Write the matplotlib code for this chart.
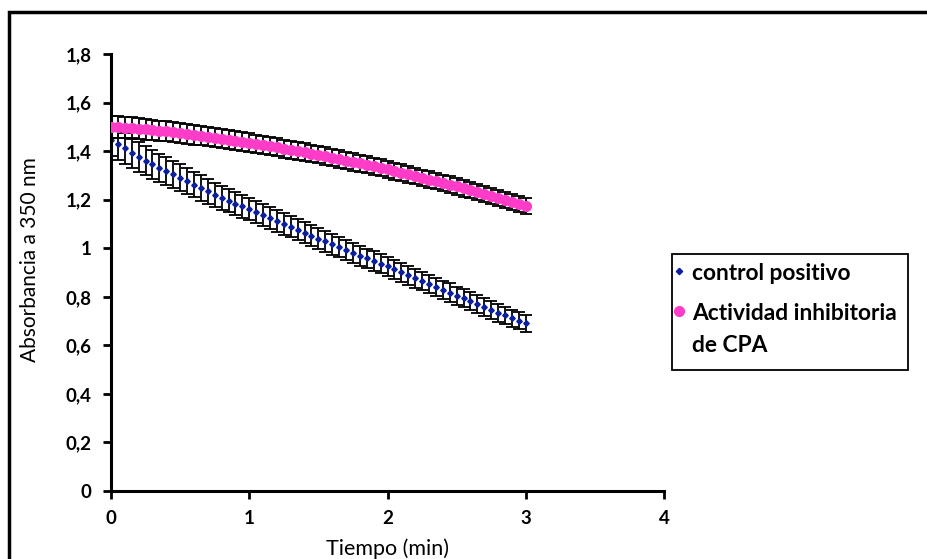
import matplotlib
matplotlib.use("Agg")
import matplotlib.pyplot as plt
from matplotlib.lines import Line2D
from matplotlib.patches import Rectangle

plt.rcParams['font.family'] = ['Lato', 'DejaVu Sans']

# sampling every 3 s, in seconds
tiempo_s = [0, 3, 6, 9, 12, 15, 18, 21, 24, 27, 30, 33, 36, 39, 42, 45, 48, 51, 54, 57,
            60, 63, 66, 69, 72, 75, 78, 81, 84, 87, 90, 93, 96, 99, 102, 105, 108, 111, 114, 117,
            120, 123, 126, 129, 132, 135, 138, 141, 144, 147, 150, 153, 156, 159, 162, 165, 168, 171, 174, 177,
            180]
tiempo_min = [t / 60 for t in tiempo_s]

control_positivo = [1.445, 1.428, 1.411, 1.394, 1.377, 1.360, 1.346, 1.332, 1.318, 1.304,
                    1.290, 1.276, 1.262, 1.248, 1.234, 1.220, 1.208, 1.196, 1.184, 1.172,
                    1.160, 1.148, 1.136, 1.124, 1.112, 1.100, 1.088, 1.076, 1.064, 1.052,
                    1.040, 1.028, 1.016, 1.004, 0.992, 0.980, 0.969, 0.958, 0.947, 0.936,
                    0.925, 0.913, 0.901, 0.889, 0.877, 0.865, 0.853, 0.841, 0.829, 0.817,
                    0.805, 0.793, 0.781, 0.769, 0.757, 0.745, 0.734, 0.723, 0.712, 0.701,
                    0.690]
control_err = [0.065, 0.064, 0.063, 0.062, 0.061, 0.060, 0.059, 0.058, 0.057, 0.056,
               0.055, 0.054, 0.053, 0.052, 0.051, 0.050, 0.049, 0.048, 0.047, 0.046,
               0.045, 0.045, 0.045, 0.044, 0.044, 0.044, 0.043, 0.043, 0.043, 0.042,
               0.042, 0.042, 0.042, 0.041, 0.041, 0.041, 0.041, 0.040, 0.040, 0.040,
               0.040, 0.040, 0.039, 0.039, 0.039, 0.039, 0.038, 0.038, 0.038, 0.038,
               0.037, 0.037, 0.037, 0.037, 0.036, 0.036, 0.036, 0.036, 0.035, 0.035,
               0.035]

inhibicion_cpa = [1.500, 1.499, 1.497, 1.495, 1.492, 1.490, 1.487, 1.484, 1.481, 1.478,
                  1.475, 1.471, 1.467, 1.463, 1.459, 1.455, 1.451, 1.447, 1.443, 1.439,
                  1.435, 1.430, 1.425, 1.420, 1.415, 1.410, 1.405, 1.400, 1.395, 1.390,
                  1.385, 1.379, 1.373, 1.367, 1.361, 1.355, 1.349, 1.343, 1.337, 1.331,
                  1.325, 1.318, 1.311, 1.304, 1.297, 1.290, 1.283, 1.276, 1.269, 1.262,
                  1.255, 1.247, 1.239, 1.231, 1.223, 1.215, 1.207, 1.199, 1.191, 1.183,
                  1.175]
inhibicion_err = [0.045, 0.045, 0.044, 0.044, 0.043, 0.043, 0.042, 0.042, 0.041, 0.041,
                  0.040, 0.040, 0.040, 0.039, 0.039, 0.039, 0.039, 0.038, 0.038, 0.038,
                  0.038, 0.038, 0.037, 0.037, 0.037, 0.037, 0.037, 0.037, 0.037, 0.036,
                  0.036, 0.036, 0.036, 0.036, 0.036, 0.036, 0.035, 0.035, 0.035, 0.035,
                  0.035, 0.035, 0.035, 0.035, 0.034, 0.034, 0.034, 0.034, 0.034, 0.034,
                  0.034, 0.034, 0.034, 0.033, 0.033, 0.033, 0.033, 0.033, 0.033, 0.033,
                  0.033]

y_ticks = [0, 0.2, 0.4, 0.6, 0.8, 1.0, 1.2, 1.4, 1.6, 1.8]
y_labels = ['0', '0,2', '0,4', '0,6', '0,8', '1', '1,2', '1,4', '1,6', '1,8']
x_ticks = [0, 1, 2, 3, 4]
leyenda = ['control positivo', 'Actividad inhibitoria', 'de CPA']

azul = '#0b1f9e'
rosa = '#ff3cc8'

fig = plt.figure(figsize=(9.27, 5.59), dpi=100)
W, H = 927, 559


def fx(px):
    return px / W


def fy(py):
    return 1 - py / H


# outer chart frame (only top and left edges visible)
fig.patches.append(Rectangle((fx(9), -0.2), 1.2, fy(12) + 0.2, transform=fig.transFigure,
                             fill=False, edgecolor='black', linewidth=2.5))

ax = fig.add_axes([fx(111), fy(491), 553 / W, 437 / H])

ax.errorbar(tiempo_min, control_positivo, yerr=control_err, fmt='D', color=azul,
            markersize=2.8, ecolor='black', elinewidth=1.3, capsize=4, capthick=1.3, zorder=2)
ax.errorbar(tiempo_min, inhibicion_cpa, yerr=inhibicion_err, fmt='o', color=rosa,
            markersize=7, ecolor='black', elinewidth=1.3, capsize=4, capthick=1.3, zorder=3)

ax.set_xlim(0, 4)
ax.set_ylim(0, 1.8)
ax.set_xticks(x_ticks)
ax.set_xticklabels([str(x) for x in x_ticks])
ax.set_yticks(y_ticks)
ax.set_yticklabels(y_labels)
for s in ['top', 'right']:
    ax.spines[s].set_visible(False)
for s in ['left', 'bottom']:
    ax.spines[s].set_linewidth(2.2)
ax.tick_params(axis='both', direction='out', length=6, width=2, labelsize=13.5, pad=8)
for lab in ax.get_xticklabels() + ax.get_yticklabels():
    lab.set_fontweight('bold')

fig.text(fx(30), fy(260), 'Absorbancia a 350 nm', rotation=90, ha='center', va='center',
         fontsize=15)
fig.text(fx(388), fy(549), 'Tiempo (min)', ha='center', va='center', fontsize=15.5)

# legend box drawn by hand so the pink marker sits on the first text line
fig.patches.append(Rectangle((fx(672), fy(370)), 236 / W, 116 / H, transform=fig.transFigure,
                             facecolor='white', edgecolor='black', linewidth=1.3, zorder=5))
fig.add_artist(Line2D([fx(679)], [fy(271)], marker='D', color=azul, markersize=3.2,
                      linestyle='none', transform=fig.transFigure, zorder=6))
fig.add_artist(Line2D([fx(679)], [fy(311)], marker='o', color=rosa, markersize=7,
                      linestyle='none', transform=fig.transFigure, zorder=6))
for txt, py in zip(leyenda, [271, 311, 343]):
    fig.text(fx(692), fy(py), txt, ha='left', va='center_baseline', fontsize=16.4,
             fontweight='bold', zorder=6)

fig.savefig('out.png', dpi=100)
